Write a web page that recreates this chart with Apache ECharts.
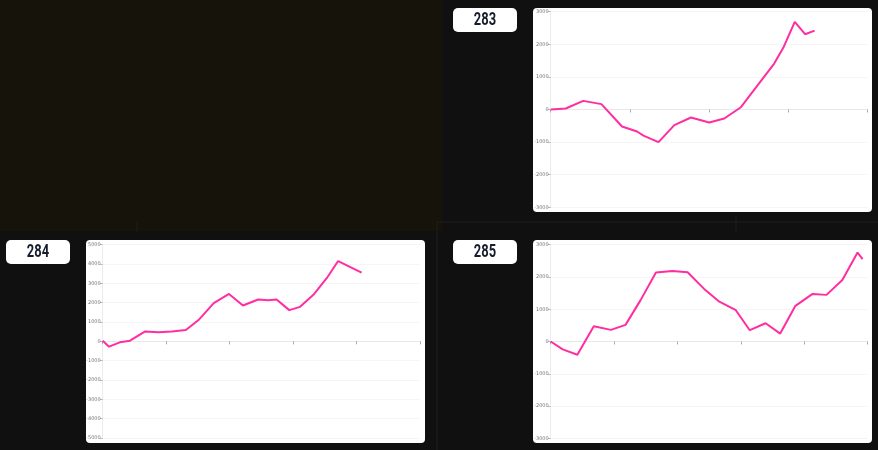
<!DOCTYPE html>
<html>
<head>
<meta charset="utf-8">
<style>
html,body{margin:0;padding:0;background:#101010;}
#c{width:878px;height:450px;}
</style>
<script src="https://cdn.jsdelivr.net/npm/echarts@6/dist/echarts.min.js"></script>
</head>
<body>
<div id="c"></div>
<script>
// Panel labels
const panelLabels = ['283', '284', '285'];

// Panel 283 (x in tick units, 4 ticks)
const xA = [0, 0.19, 0.41, 0.64, 0.9, 1.09, 1.17, 1.36, 1.56, 1.77, 2.0, 2.19, 2.4, 2.61, 2.82, 2.94, 3.08, 3.21, 3.33];
const yA = [0, 30, 265, 165, -520, -675, -800, -1000, -480, -245, -400, -275, 70, 740, 1410, 1920, 2690, 2310, 2420];

// Panel 284 (5 ticks)
const xB = [0, 0.1, 0.27, 0.43, 0.67, 0.88, 1.09, 1.31, 1.52, 1.75, 1.99, 2.21, 2.45, 2.61, 2.74, 2.94, 3.11, 3.32, 3.53, 3.71, 4.08];
const yB = [30, -275, -50, 35, 515, 465, 515, 585, 1135, 1975, 2455, 1855, 2165, 2130, 2165, 1615, 1785, 2405, 3265, 4155, 3555];

// Panel 285 (5 ticks)
const xC = [0, 0.19, 0.42, 0.68, 0.95, 1.18, 1.42, 1.66, 1.92, 2.16, 2.42, 2.66, 2.92, 3.14, 3.39, 3.62, 3.86, 4.13, 4.35, 4.6, 4.84, 4.92];
const yC = [0, -245, -410, 475, 360, 515, 1290, 2135, 2185, 2145, 1630, 1235, 970, 350, 565, 245, 1105, 1475, 1445, 1905, 2755, 2555];

// Axis ranges
const yRangeA = [-3000, 3000];
const yRangeB = [-5000, 5000];
const yRangeC = [-3000, 3000];
const xMaxA = 4, xMaxB = 5, xMaxC = 5;

function pairs(xs, ys){ return xs.map((x,i)=>[x, ys[i]]); }

const chart = echarts.init(document.getElementById('c'), null, {renderer:'canvas'});

function yAxis(gi, r){
  return {
    type:'value', gridIndex:gi, min:r[0], max:r[1], interval:1000,
    axisLine:{show:true, lineStyle:{color:'#ececec', width:1}},
    axisTick:{show:true, length:3, lineStyle:{color:'#bbb'}},
    axisLabel:{fontSize:5, color:'#777', margin:2, fontFamily:'DejaVu Sans', formatter:(v)=>String(v)},
    splitLine:{show:true, lineStyle:{color:'#f5f5f5', width:1}}
  };
}
function xAxis(gi, max){
  return {
    type:'value', gridIndex:gi, min:0, max:max, interval:1,
    axisLine:{show:true, onZero:true, lineStyle:{color:'#e8e8e8', width:1}},
    axisTick:{show:true, length:3, lineStyle:{color:'#aaa'}},
    axisLabel:{show:false},
    splitLine:{show:false}
  };
}
function line(i, data){
  return {
    type:'line', xAxisIndex:i, yAxisIndex:i, data:data, showSymbol:false, symbol:'none',
    lineStyle:{color:'#ff2ea0', width:2}, itemStyle:{color:'#ff2ea0'}, animation:false, z:5
  };
}
function box(x,y,w,h,r){ return {type:'rect', shape:{x:x,y:y,width:w,height:h,r:r}, style:{fill:'#ffffff'}, z:-5}; }
function badge(x,y,txt){
  return [
    {type:'rect', shape:{x:x,y:y,width:64,height:24,r:5}, style:{fill:'#ffffff'}, z:-5},
    {type:'text', x:x+32, y:y+12.5, scaleX:0.72, scaleY:1,
     style:{text:txt, fill:'#161d2c', font:'bold 18px Roboto, "DejaVu Sans", sans-serif', textAlign:'center', textVerticalAlign:'middle'}, z:10}
  ];
}

chart.setOption({
  backgroundColor:'#101010',
  animation:false,
  graphic:{elements:[
    {type:'rect', shape:{x:0,y:0,width:442,height:231}, style:{fill:'#15130a'}, z:-20},
    {type:'line', shape:{x1:437,y1:222,x2:878,y2:222}, style:{stroke:'#1e1e1e', lineWidth:1}, z:-19},
    {type:'line', shape:{x1:437,y1:222,x2:437,y2:450}, style:{stroke:'#1e1e1e', lineWidth:1}, z:-19},
    {type:'line', shape:{x1:137,y1:222,x2:137,y2:232}, style:{stroke:'#1e1e1e', lineWidth:1}, z:-19},
    {type:'line', shape:{x1:736,y1:215,x2:736,y2:232}, style:{stroke:'#1e1e1e', lineWidth:1}, z:-19},
    box(533,8,339,204,4),
    box(86,240,339,203,4),
    box(533,240,339,203,4),
    ...badge(453,8,panelLabels[0]),
    ...badge(6,240,panelLabels[1]),
    ...badge(453,240,panelLabels[2])
  ]},
  grid:[
    {left:550.7, top:11.7, width:317, height:195.6, containLabel:false},
    {left:102.7, top:244.7, width:317.3, height:193.3, containLabel:false},
    {left:550.7, top:244.7, width:317, height:193.6, containLabel:false}
  ],
  xAxis:[xAxis(0,xMaxA), xAxis(1,xMaxB), xAxis(2,xMaxC)],
  yAxis:[yAxis(0,yRangeA), yAxis(1,yRangeB), yAxis(2,yRangeC)],
  series:[line(0,pairs(xA,yA)), line(1,pairs(xB,yB)), line(2,pairs(xC,yC))]
});
</script>
</body>
</html>
